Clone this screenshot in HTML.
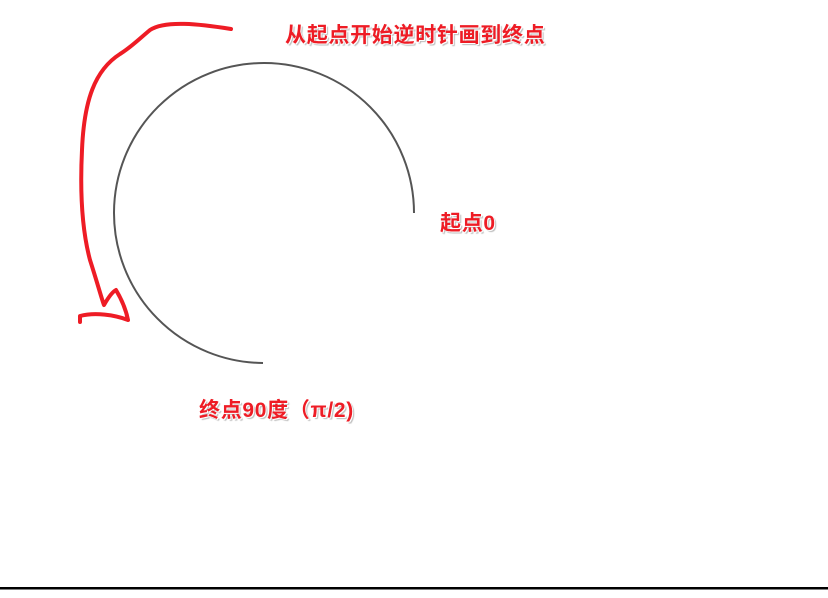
<!DOCTYPE html>
<html><head><meta charset="utf-8"><style>
body{margin:0;background:#fff;width:828px;height:598px;overflow:hidden;position:relative;font-family:"Liberation Sans","Noto Sans CJK SC",sans-serif}
.t{position:absolute;color:#ee1c25;font-weight:bold;font-size:21px;letter-spacing:0.7px;line-height:21px;white-space:nowrap;text-shadow:1px 1px 0 #fff,2px 2px 1px #bbb}
</style></head><body>
<svg width="828" height="598" style="position:absolute;left:0;top:0">
<path d="M414,213 A150,150 0 1 0 263,363" fill="none" stroke="#555" stroke-width="2"/>
<path d="M231,29 C200,24 165,20 150,30 C138,40 130,48 120,54 C95,70 84,100 82,150 C80,190 82,230 90,260 C98,285 102,300 104,305 C108,298 112,292 116,290 C122,300 126,310 128,320 C115,315 95,312 80,316 L80,322" fill="none" stroke="#ee1c25" stroke-width="4" stroke-linecap="round" stroke-linejoin="round"/>
<rect x="0" y="587" width="828" height="2.5" fill="#000"/>
</svg>
<div class="t" style="left:285px;top:25px">从起点开始逆时针画到终点</div>
<div class="t" style="left:440px;top:213px">起点0</div>
<div class="t" style="left:199px;top:400px">终点90度（π/2)</div>
</body></html>
